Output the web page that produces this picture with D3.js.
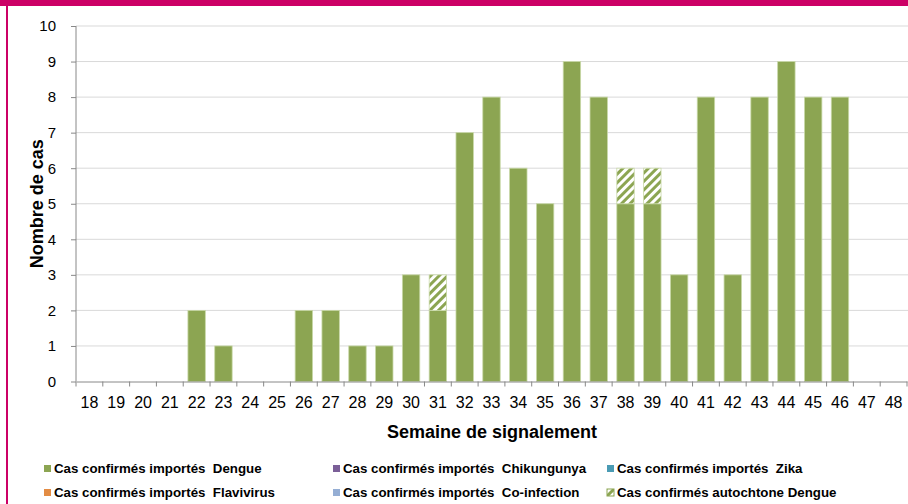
<!DOCTYPE html>
<html lang="fr">
<head>
<meta charset="UTF-8">
<title>Cas confirmés par semaine</title>
<script src="https://cdn.jsdelivr.net/npm/d3@7"></script>
<style>
  body { margin: 0; background: #fff; }
  text { font-family: "Liberation Sans", Arial, sans-serif; }
</style>
</head>
<body>
<script>
// données
var semaines = d3.range(18, 49).map(String);
var dengueImporte   = [0,0,0,0,2,1,0,0,2,2,1,1,3,2,7,8,6,5,9,8,5,5,3,8,3,8,9,8,8,0,0];
var chikImporte     = semaines.map(function () { return 0; });
var zikaImporte     = semaines.map(function () { return 0; });
var flaviImporte    = semaines.map(function () { return 0; });
var coinfImporte    = semaines.map(function () { return 0; });
var dengueAutochtone= [0,0,0,0,0,0,0,0,0,0,0,0,0,1,0,0,0,0,0,0,1,1,0,0,0,0,0,0,0,0,0];
var yTicks = d3.range(0, 11);

var series = [
  {key: "dengue", label: "Cas confirmés importés  Dengue", color: "#8ca552", values: dengueImporte},
  {key: "chik", label: "Cas confirmés importés  Chikungunya", color: "#7b5f98", values: chikImporte},
  {key: "zika", label: "Cas confirmés importés  Zika", color: "#4a9bb4", values: zikaImporte},
  {key: "flavi", label: "Cas confirmés importés  Flavivirus", color: "#e38c44", values: flaviImporte},
  {key: "coinf", label: "Cas confirmés importés  Co-infection", color: "#95aed4", values: coinfImporte},
  {key: "auto", label: "Cas confirmés autochtone Dengue", color: "url(#hachure)", values: dengueAutochtone}
];

var width = 908, height = 504;
var svg = d3.select("body").append("svg").attr("width", width).attr("height", height);

// motif hachuré
var defs = svg.append("defs");
var pat = defs.append("pattern").attr("id", "hachure")
  .attr("patternUnits", "userSpaceOnUse").attr("width", 6).attr("height", 6)
  .attr("patternTransform", "rotate(45)");
pat.append("rect").attr("width", 6).attr("height", 6).attr("fill", "#fff");
pat.append("rect").attr("width", 3).attr("height", 6).attr("fill", "#8ca552");

// cadre
svg.append("rect").attr("x", 0).attr("y", 0).attr("width", width).attr("height", 6).attr("fill", "#cc0066");
svg.append("rect").attr("x", 6).attr("y", 0).attr("width", 2).attr("height", height).attr("fill", "#cc0066");

var mLeft = 76, mRight = 907, mTop = 26, mBottom = 381.5;

var x = d3.scaleBand().domain(semaines).range([mLeft, mRight]).paddingInner(0.35).paddingOuter(0.175);
var y = d3.scaleLinear().domain([0, 10]).range([mBottom, mTop]);

// grille
svg.append("g").selectAll("line").data(yTicks.slice(1)).enter().append("line")
  .attr("x1", mLeft).attr("x2", width).attr("y1", function (d) { return y(d); }).attr("y2", function (d) { return y(d); })
  .attr("stroke", "#d9d9d9").attr("stroke-width", 1);

// barres empilées
var table = semaines.map(function (s, i) {
  var row = {semaine: s};
  series.forEach(function (se) { row[se.key] = se.values[i]; });
  return row;
});
var stack = d3.stack().keys(series.map(function (s) { return s.key; }));
var layers = stack(table);

svg.append("g").selectAll("g").data(layers).enter().append("g")
  .attr("fill", function (d, i) { return series[i].color; })
  .selectAll("rect").data(function (d) { return d; }).enter().append("rect")
  .attr("x", function (d) { return x(d.data.semaine); })
  .attr("width", x.bandwidth())
  .attr("y", function (d) { return y(d[1]); })
  .attr("height", function (d) { return y(d[0]) - y(d[1]); })
  .attr("stroke", function (d) { return d[1] > d[0] ? "#c9d9a8" : "none"; })
  .attr("stroke-width", 0.8);

// axe y
var yAxis = svg.append("g").attr("transform", "translate(" + mLeft + ",0)")
  .call(d3.axisLeft(y).tickValues(yTicks).tickSize(5).tickPadding(15));
yAxis.select(".domain").attr("stroke", "#888").attr("d", "M0," + mTop + "V" + mBottom);
yAxis.selectAll(".tick line").attr("stroke", "#888");
yAxis.selectAll("text").attr("font-size", 15).attr("fill", "#000")
  .attr("font-family", "Liberation Sans, Arial, sans-serif");

// axe x
var xAxis = svg.append("g").attr("transform", "translate(0," + mBottom + ")")
  .call(d3.axisBottom(x).tickSize(0).tickPadding(15));
xAxis.select(".domain").attr("stroke", "#888");
xAxis.selectAll("text").attr("font-size", 16).attr("fill", "#000")
  .attr("font-family", "Liberation Sans, Arial, sans-serif");
// graduations aux limites des classes
svg.append("g").selectAll("line").data(d3.range(semaines.length + 1)).enter().append("line")
  .attr("x1", function (i) { return mLeft + i * x.step(); })
  .attr("x2", function (i) { return mLeft + i * x.step(); })
  .attr("y1", mBottom).attr("y2", mBottom + 5)
  .attr("stroke", "#888");

// titres des axes
svg.append("text").attr("x", 492).attr("y", 438)
  .attr("text-anchor", "middle").attr("font-size", 18).attr("font-weight", "bold")
  .text("Semaine de signalement");
svg.append("text").attr("transform", "translate(43," + (mTop + mBottom) / 2 + ") rotate(-90)")
  .attr("text-anchor", "middle").attr("font-size", 18).attr("font-weight", "bold")
  .text("Nombre de cas");

// légende
var legX = [44, 333, 607], legY = [470, 494];
var leg = svg.append("g").selectAll("g").data(series).enter().append("g")
  .attr("transform", function (d, i) { return "translate(" + legX[i % 3] + "," + legY[Math.floor(i / 3)] + ")"; });
leg.append("rect").attr("x", 0).attr("y", -5).attr("width", 7).attr("height", 7)
  .attr("fill", function (d) { return d.color; })
  .attr("stroke", function (d) { return d.key === "auto" ? "#8ca552" : "none"; });
leg.append("text").attr("x", 10).attr("y", 3).attr("font-size", 13.3).attr("font-weight", "bold")
  .style("white-space", "pre").attr("xml:space", "preserve")
  .text(function (d) { return d.label; });
</script>
</body>
</html>
